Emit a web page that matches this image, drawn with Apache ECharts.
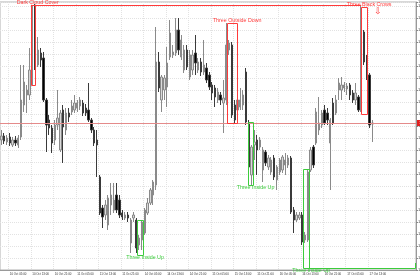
<!DOCTYPE html>
<html><head><meta charset="utf-8">
<script src="https://cdn.jsdelivr.net/npm/echarts@6/dist/echarts.min.js"></script>
<style>html,body{margin:0;padding:0;background:#fff}#c{width:420px;height:280px}</style>
</head><body><div id="c"></div>
<script>
// ---- data ----
const tradingDays = ['10 Oct','11 Oct','14 Oct','15 Oct','16 Oct','17 Oct','18 Oct'];
const firstHour = 2;
const slotCount = 148;
const categories = Array.from({length: slotCount}, (_, i) => {
  const h = firstHour + i;
  return tradingDays[Math.floor(h / 24)] + ' ' + String(h % 24).padStart(2, '0') + ':00';
});
// [open, close, low, high]
const candles = [
[130,134,125,140],[134,129,126,137],[128,132,125,135],[133,127,124,137],[125,130,123,133],
[130,127,124,134],[125,132,122,135],[133,170,130,205],[165,188,158,205],[175,180,157,185],
[175,200,170,222],[202,263,185,265],[265,202,200,266],[205,220,203,233],[217,210,203,222],
[212,170,168,218],[170,145,118,172],[150,142,135,155],[142,127,117,145],[130,145,125,150],
[145,152,140,180],[120,157,118,160],[160,143,107,165],[140,157,135,162],[157,153,148,162],
[158,164,155,170],[160,167,157,175],[162,167,158,170],[164,170,160,173],[167,157,154,170],
[162,157,154,166],[160,150,148,187],[150,140,137,152],[140,127,124,143],[130,125,93,140],
[93,57,55,95],[62,53,42,65],[55,65,50,70],[45,72,40,75],[65,75,55,87],
[60,70,57,87],[75,60,57,87],[70,55,52,75],[57,53,50,60],[52,55,50,58],
[55,52,48,58],[27,50,17,52],[52,55,48,58],[50,22,17,52],[25,32,20,35],
[30,48,20,50],[37,60,35,62],[57,67,55,72],[67,80,65,82],[75,88,65,90],
[85,208,80,243],[208,182,178,218],[170,193,158,195],[180,192,170,195],[183,207,163,223],
[213,237,210,250],[215,218,212,225],[217,240,214,252],[240,220,215,252],[213,230,210,235],
[200,220,197,225],[220,203,200,225],[193,215,190,220],[200,215,195,220],[217,207,195,235],
[200,208,197,212],[208,198,194,212],[198,205,195,230],[202,190,187,207],[195,183,180,198],
[185,177,170,188],[182,173,163,185],[170,178,167,182],[175,170,165,178],[167,172,137,190],
[170,225,165,247],[220,227,215,230],[225,155,152,228],[165,150,147,170],[160,170,155,173],
[163,170,160,182],[165,175,160,180],[198,148,145,202],[147,103,93,150],[95,123,85,125],
[125,128,110,140],[130,120,95,135],[123,130,120,133],[100,120,88,123],[118,107,104,120],
[103,112,100,115],[98,110,95,113],[112,93,90,115],[90,103,80,105],[98,110,95,112],
[100,113,97,115],[105,110,95,117],[105,112,102,115],[112,58,56,114],[60,50,37,63],
[50,55,48,58],[52,55,50,58],[55,28,25,58],[30,35,27,38],[30,98,28,101],
[100,120,98,123],[123,105,102,125],[127,158,125,162],[140,147,135,173],[145,157,142,160],
[160,147,145,165],[157,150,145,162],[127,150,80,152],[167,147,145,172],[157,170,155,175],
[180,187,170,192],[180,185,170,193],[182,185,178,188],[181,184,175,187],[185,175,170,187],
[177,170,167,180],[170,177,165,187],[173,160,158,175],[160,238,158,265],[238,208,205,240],
[213,193,190,215],[195,145,142,197],[146,147,128,150]
];
const currentPrice = 147;
const patternNames = ['Dark Cloud Cover','Three Outside Down','Three Black Crows','Three Inside Up','Three Inside Up','Three Inside Up'];
const patternKind  = ['bear','bear','bear','bull','bull','bull'];
const patternFrom  = [10.5, 80.4, 128.0, 48.25, 87.75, 107.3];
const patternTo    = [11.8, 83.8, 130.1, 50.4, 89.5, 109.5];
const patternHigh  = [265.5, 247, 263, 50, 148, 101];
const patternLow   = [185, 147, 156, 15, 85, 2];
const resistanceLine = [10.5, 128, 265.5];   // from, to, level
const supportLine = [109.5, 147.2, 2, 7];    // from, to, level, tail top
const arrowMarks = [[134, 258]];

// ---- styles ----
const RED = '#ff3a3a', GREEN = '#3ccc3c';
const FONT = '"Liberation Sans", Arial, sans-serif';

function makeP(api) {
  const bw = api.size([1, 0])[0];
  return (x, v) => { const i = Math.floor(x); const c = api.coord([i, v]); return [c[0] + (x - i) * bw, c[1]]; };
}
const crisp = v => Math.round(v) + 0.5;

const labelIdx = i => i % 8 === 3 && i < candles.length;

// one custom series draws all pattern annotations (boxes, lines, texts)
function renderAnnotations(params, api) {
  const P = makeP(api);
  const children = [];
  patternNames.forEach((name, k) => {
    const a = P(patternFrom[k], patternHigh[k]), b = P(patternTo[k], patternLow[k]);
    const bull = patternKind[k] === 'bull';
    const col = bull ? GREEN : RED;
    const x0 = crisp(a[0]), x1 = crisp(b[0]), y0 = crisp(a[1]), y1 = crisp(b[1]);
    children.push({ type: 'polyline', z2: 1, shape: { points: [[x0, y0], [x1, y0], [x1, y1], [x0, y1], [x0, y0]] },
      style: { stroke: col, fill: 'none', lineWidth: 1 } });
    children.push({ type: 'text', z2: 3, style: { text: name, x: (a[0] + b[0]) / 2 + 5, y: bull ? b[1] + 0.5 : a[1] + 0.5,
      fill: col, fontSize: 5.3, fontFamily: FONT, align: 'center', verticalAlign: bull ? 'top' : 'bottom' } });
  });
  const r0 = P(resistanceLine[0], resistanceLine[2]), r1 = P(resistanceLine[1], resistanceLine[2]);
  children.push({ type: 'polyline', z2: 1, shape: { points: [[r0[0], crisp(r0[1])], [r1[0], crisp(r1[1])]] },
    style: { stroke: RED, fill: 'none', lineWidth: 1 } });
  const s0 = P(supportLine[0], supportLine[2]), s1 = P(supportLine[1], supportLine[2]), s2 = P(supportLine[1], supportLine[3]);
  children.push({ type: 'polyline', z2: 1, shape: { points: [[s0[0], crisp(s0[1])], [crisp(s1[0]), crisp(s1[1])], [crisp(s2[0]), s2[1]]] },
    style: { stroke: GREEN, fill: 'none', lineWidth: 1 } });
  arrowMarks.forEach(m => {
    const c = api.coord(m);
    children.push({ type: 'text', z2: 3, style: { text: '⇩', x: c[0], y: c[1], fill: RED, fontSize: 9, fontFamily: '"DejaVu Sans"', align: 'center', verticalAlign: 'middle' } });
  });
  return { type: 'group', children };
}

const option = {
  animation: false,
  backgroundColor: '#fff',
  grid: { left: 0, right: 4, top: 2, bottom: 10, show: true, borderColor: '#b0b0b0', borderWidth: 1,
    containLabel: false, outerBoundsMode: 'none' },
  xAxis: {
    type: 'category', data: categories, boundaryGap: true,
    axisLine: { lineStyle: { color: '#999', width: 1 } },
    axisTick: { alignWithLabel: true, interval: (i) => labelIdx(i), length: 2, lineStyle: { color: '#888' } },
    axisLabel: { interval: (i) => labelIdx(i), fontSize: 2.9, fontFamily: FONT, color: '#333', align: 'left', margin: 3, hideOverlap: false },
    splitLine: { show: true, interval: (i) => labelIdx(i), lineStyle: { color: '#e2e2e2', type: 'dotted', width: 1 } }
  },
  yAxis: {
    type: 'value', position: 'right', min: 0, max: 268, interval: 12, scale: false,
    axisLine: { show: true, lineStyle: { color: '#999' } },
    axisTick: { show: true, length: 2, lineStyle: { color: '#888' } },
    axisLabel: { fontSize: 4, fontFamily: FONT, color: '#444', margin: 2,
      formatter: v => (1.3400 + v * 0.0001).toFixed(4) },
    splitLine: { show: true, lineStyle: { color: '#e2e2e2', type: 'dotted', width: 1 } }
  },
  series: [
    {
      type: 'candlestick', z: 2, barWidth: 1.8,
      data: candles,
      itemStyle: { color: '#dadada', color0: '#000000', borderColor: '#8a8a8a', borderColor0: '#3a3a3a', borderWidth: 1 },
      markLine: {
        silent: true, symbol: 'none', animation: false,
        data: [{ yAxis: currentPrice }],
        lineStyle: { color: '#e48a8a', type: 'solid', width: 1 },
        label: { show: true, position: 'end', distance: 1, fontSize: 4, fontFamily: FONT, color: '#fff', backgroundColor: '#e02020', padding: [1, 2],
          formatter: p => (1.3400 + p.value * 0.0001).toFixed(4) }
      }
    },
    {
      type: 'custom', z: 10, clip: false, silent: true,
      data: [[0, 0]],
      renderItem: renderAnnotations
    }
  ]
};
const chart = echarts.init(document.getElementById('c'), null, { renderer: 'canvas' });
chart.setOption(option);
</script>
</body></html>
